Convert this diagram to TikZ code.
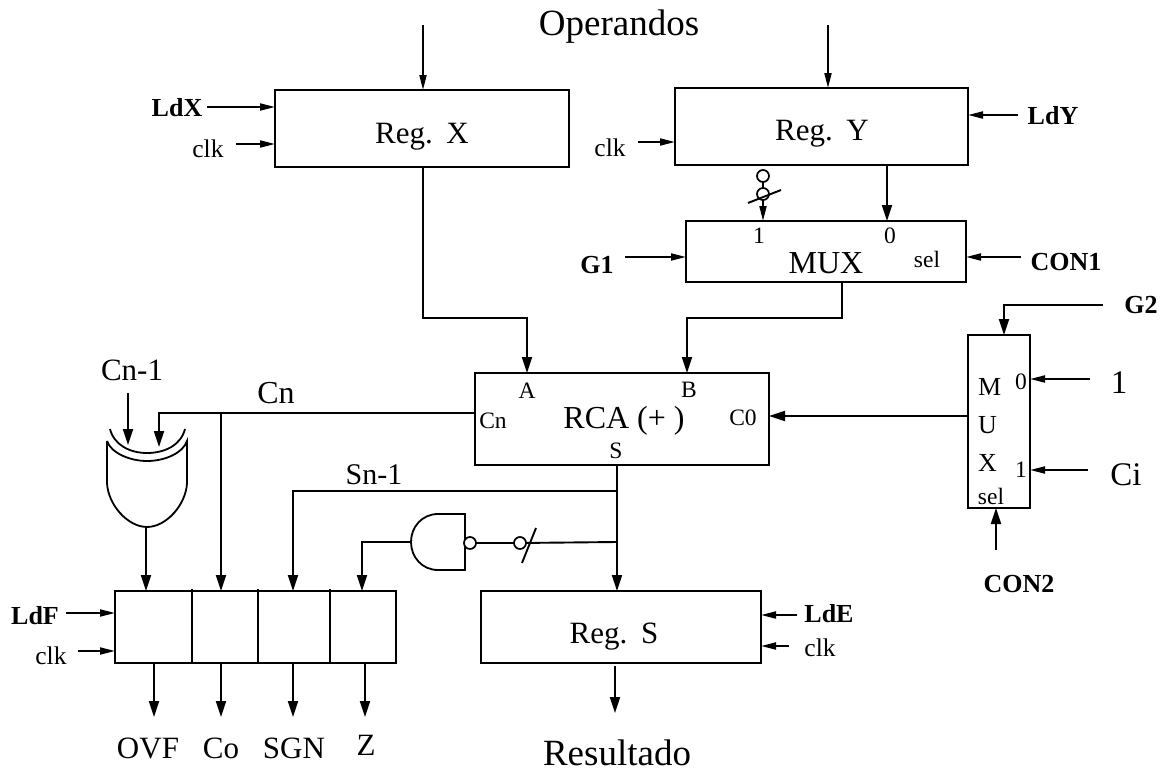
\documentclass[tikz,border=0pt]{standalone}
\usepackage{fontspec}
\setmainfont{Liberation Serif}
\usetikzlibrary{arrows.meta,calc}
\newcommand{\fsz}[1]{\fontsize{#1}{#1}\selectfont}
\tikzset{
  block/.style={draw,line width=2pt,inner sep=0pt,outer sep=0pt,anchor=north west},
  wire/.style={line width=1.9pt},
  arr/.style={wire,-{Triangle[length=16pt,width=10pt]}},
  narr/.style={wire,-{Triangle[length=15pt,width=7pt]}},
  gate/.style={line width=1.8pt,fill=white},
  bub/.style={circle,draw,line width=1.7pt,minimum size=12pt,inner sep=0pt,outer sep=0pt,fill=white},
  lab/.style={inner sep=0pt,anchor=base},
  big/.style={lab,font=\fsz{37}},
  mid/.style={lab,font=\fsz{31}},
  sm/.style={lab,font=\fsz{23.5}},
  ck/.style={lab,font=\fsz{25.5}},
  bl/.style={lab,font=\fsz{26}\bfseries},
}
\begin{document}
\begin{tikzpicture}[x=1pt,y=-1pt]
\useasboundingbox (0,0) rectangle (1165,771);
% blocks
\node[block,minimum width=294pt,minimum height=77pt] (regx) at (275,90) {};
\node[block,minimum width=293pt,minimum height=77pt] (regy) at (675,88) {};
\node[block,minimum width=280pt,minimum height=61pt] (mux) at (686,221) {};
\node[block,minimum width=294pt,minimum height=92pt] (rca) at (475,373) {};
\node[block,minimum width=62pt,minimum height=173pt] (cmux) at (968,335) {};
\node[block,minimum width=281pt,minimum height=72pt] (flags) at (115,591) {};
\node[block,minimum width=280pt,minimum height=72pt] (regs) at (481,591) {};
\draw[wire] (192,589) -- (192,663) (258,589) -- (258,663) (330,589) -- (330,663);
% block texts
\node[mid] (tx) at (422,143) {Reg.\hspace{.44em}X};
\node[mid] (ty) at (822,140) {Reg.\hspace{.44em}Y};
\node[mid,font=\fsz{32}] (tm) at (826,273) {MUX};
\node[mid,font=\fsz{32}] (tr) at (624,428) {RCA (+ )};
\node[mid] (ts) at (614,643) {Reg.\hspace{.44em}S};
\node[sm] (m1) at (759,243) {1};
\node[sm] (m0) at (890,243) {0};
\node[sm] (msel) at (927,267) {sel};
\node[sm] (ra) at (527,398) {A};
\node[sm] (rb) at (689,397) {B};
\node[sm] (rcn) at (493,428) {Cn};
\node[sm] (rc0) at (743,425) {C0};
\node[sm] (rs) at (616,458) {S};
\node[lab,anchor=base west,font=\fsz{26}] (cm) at (978,395) {M};
\node[lab,anchor=base west,font=\fsz{26}] (cu) at (978,433) {U};
\node[lab,anchor=base west,font=\fsz{26}] (cx) at (978,471) {X};
\node[sm] (c0) at (1021,389) {0};
\node[sm] (c1) at (1021,477) {1};
\node[sm] (csel) at (991,504) {sel};
% outside labels
\node[big] (lop) at (619,35) {Operandos};
\node[big] (lres) at (617,765) {Resultado};
\node[bl] (ldx) at (177,116) {LdX};
\node[ck] (ck1) at (208,157) {clk};
\node[ck] (ck2) at (610,156) {clk};
\node[bl] (ldy) at (1053,124) {LdY};
\node[bl] (g1) at (597,273) {G1};
\node[bl] (con1) at (1066,270) {CON1};
\node[bl] (g2) at (1141,313) {G2};
\node[bl] (con2) at (1019,592) {CON2};
\node[lab,font=\fsz{33}] (l1) at (1119,393) {1};
\node[lab,font=\fsz{33}] (lci) at (1126,485) {Ci};
\node[lab,font=\fsz{31}] (lcn1) at (132,380) {Cn-1};
\node[lab,font=\fsz{32}] (lcn) at (276,403) {Cn};
\node[lab,font=\fsz{30}] (lsn) at (374,484) {Sn-1};
\node[bl] (ldf) at (35,624) {LdF};
\node[ck] (ck3) at (51,664) {clk};
\node[bl] (lde) at (829,622) {LdE};
\node[ck] (ck4) at (820,656) {clk};
\node[mid] (lovf) at (148,758) {OVF};
\node[mid] (lco) at (221,758) {Co};
\node[mid] (lsgn) at (294,758) {SGN};
\node[mid] (lz) at (366,755) {Z};
% free ends
\coordinate (a1) at (423,25);
\coordinate (a2) at (828,25);
\coordinate (fldx) at (207,107);
\coordinate (fck1) at (236,144);
\coordinate (fck2) at (638,142);
\coordinate (fldy) at (1018,115);
\coordinate (fg1) at (625,257);
\coordinate (fcon1) at (1021,257);
\coordinate (fg2) at (1103,305);
\coordinate (fone) at (1090,379);
\coordinate (fci) at (1088,470);
\coordinate (fcon2) at (996,550);
\coordinate (fcn1) at (128,393);
\coordinate (fldf) at (66,613);
\coordinate (fck3) at (78,651);
\coordinate (flde) at (797,615);
\coordinate (fck4) at (789,646);
\coordinate (jcn) at (221,413);
\coordinate (js1) at (617,491);
\coordinate (js2) at (617,542);
% connectors
\draw[narr] (a1) -- (a1 |- regx.north);
\draw[narr] (a2) -- (a2 |- regy.north);
\draw[narr] (fldx) -- (fldx -| regx.west);
\draw[narr] (fck1) -- (fck1 -| regx.west);
\draw[narr] (fck2) -- (fck2 -| regy.west);
\draw[narr] (fldy) -- (fldy -| regy.east);
\draw[narr] (fg1) -- (fg1 -| mux.west);
\draw[narr] (fcon1) -- (fcon1 -| mux.east);
\draw[arr] (423,167) -- (423,318) -- (527,318) -- (527,373);
\draw[arr] (887,165) -- (887,221);
\draw[arr] (842,282) -- (842,318) -- (687,318) -- (687,373);
\draw[arr] (cmux.west |- 0,416) -- (769,416);
\draw[arr] (fg2) -- (1004,305) -- (1004,335);
\draw[narr] (fone) -- (fone -| cmux.east);
\draw[narr] (fci) -- (fci -| cmux.east);
\draw[arr] (fcon2) -- (fcon2 |- cmux.south);
% mux input 1 with bubbles
\node[bub] (b1) at (763,176) {};
\node[bub] (b2) at (763,194) {};
\draw[wire] (b1) -- (b2);
\draw[narr] (b2.south) -- (763,221);
\coordinate (s1a) at (748,203);
\coordinate (s1b) at (781,190);
\draw[wire] (s1a) -- (s1b);
% carry
\draw[arr] (475,413) -- (159,413) -- (159,447);
\draw[arr] (jcn) -- (221,591);
\draw[arr] (fcn1) -- (128,445);
% XOR gate
\draw[gate,fill=none] (110,429) .. controls (114,445) and (130,453) .. (147,453) .. controls (165,453) and (181,445) .. (185,429);
\draw[gate] (107,441) -- (107,483) .. controls (108,505) and (128,527) .. (147,527) .. controls (166,527) and (186,505) .. (187,483) -- (187,441) .. controls (183,453) and (165,461) .. (147,461) .. controls (130,461) and (111,453) .. (107,441);
\draw[arr] (146,527) -- (146,591);
% S bus
\draw[arr] (617,465) -- (617,591);
\draw[arr] (js1) -- (293,491) -- (293,591);
% NAND
\draw[gate] (465,514) -- (438,514) .. controls (422,514) and (411,527) .. (411,542) .. controls (411,557) and (422,570) .. (438,570) -- (465,570) -- cycle;
\node[bub] (nb) at (470,543) {};
\node[bub] (nb2) at (520,543) {};
\draw[wire] (js2) -- (nb2);
\draw[wire] (nb2) -- (nb);
\coordinate (s2a) at (522,563);
\coordinate (s2b) at (536,528);
\draw[wire] (s2a) -- (s2b);
\draw[arr] (411,542) -- (362,542) -- (362,591);
% flag and reg S lines
\draw[narr] (fldf) -- (fldf -| flags.west);
\draw[narr] (fck3) -- (fck3 -| flags.west);
\draw[narr] (flde) -- (flde -| regs.east);
\draw[narr] (fck4) -- (fck4 -| regs.east);
\draw[arr] (154,663) -- (154,717);
\draw[arr] (221,663) -- (221,717);
\draw[arr] (293,663) -- (293,717);
\draw[arr] (365,663) -- (365,717);
\draw[arr] (615,666) -- (615,713);
\end{tikzpicture}
\end{document}
